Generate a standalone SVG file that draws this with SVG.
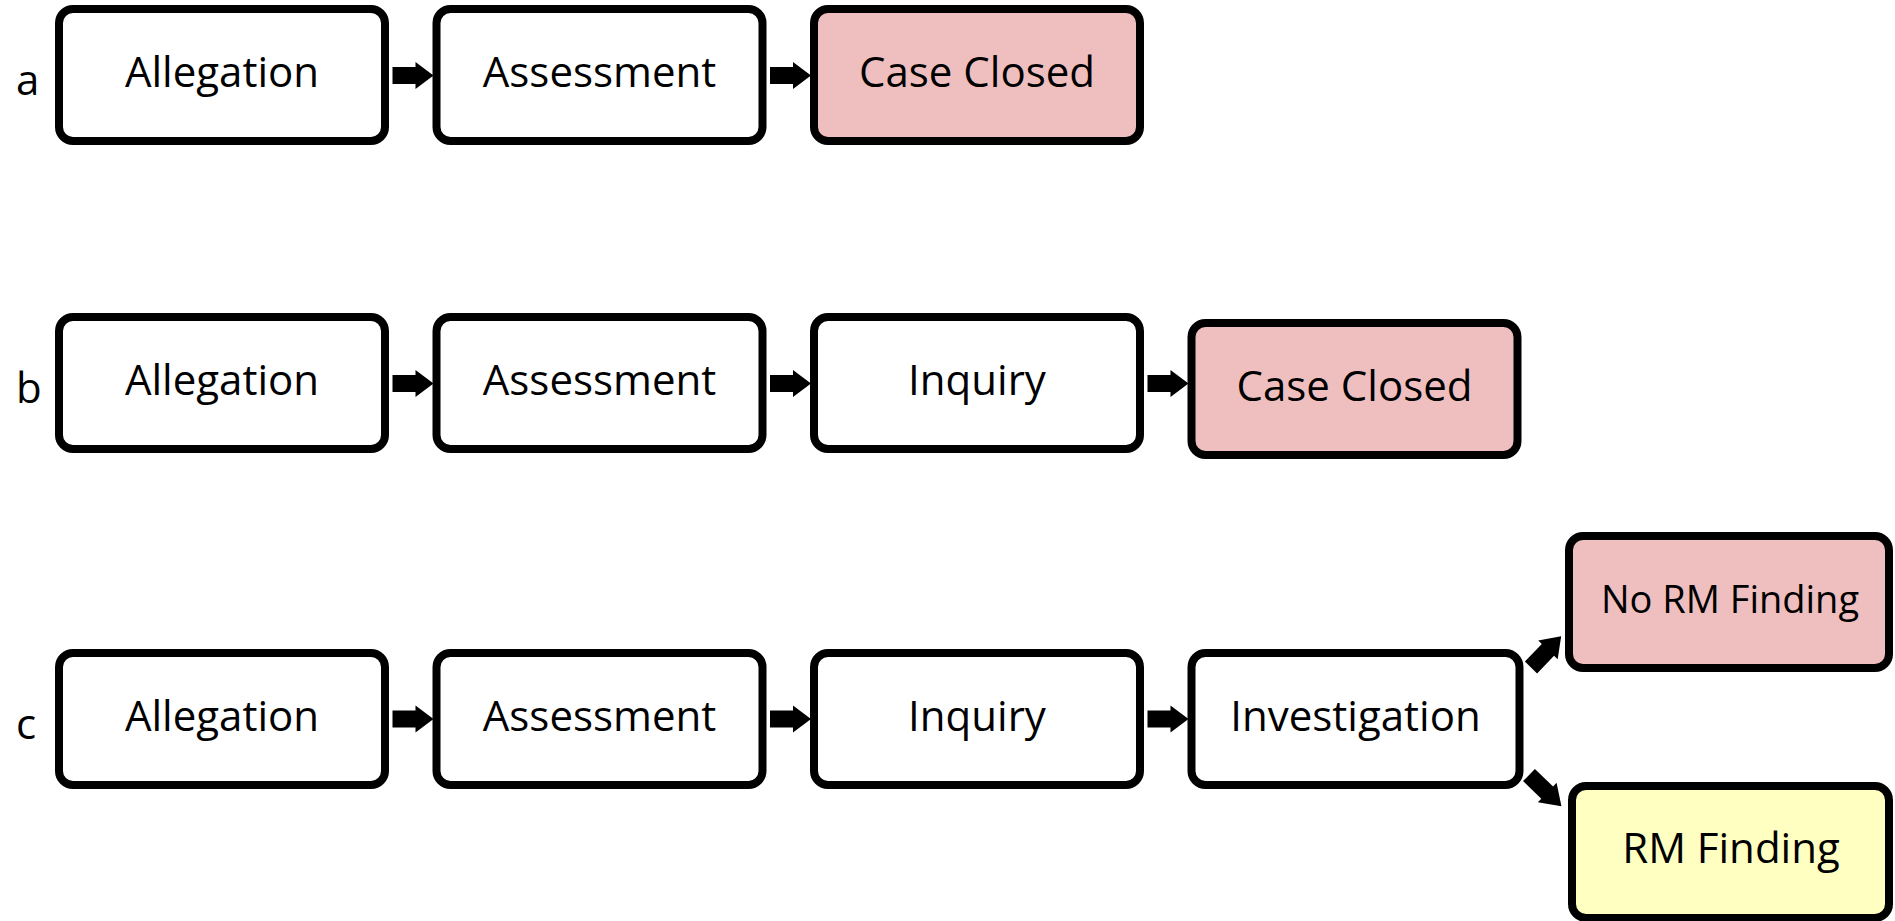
<svg xmlns="http://www.w3.org/2000/svg" xmlns:xlink="http://www.w3.org/1999/xlink" width="1895" height="921" viewBox="0 0 1895 921">
<defs>
<style>
.box{fill:#ffffff;stroke:#000000;stroke-width:8}
.pink{fill:#EFBFBF}
.yellow{fill:#FFFFC1}
.t{font-family:"Open Sans","Liberation Sans",sans-serif;font-size:42px;fill:#000000;text-anchor:middle}
.s{font-size:38px}
.lbl{font-family:"Open Sans","Liberation Sans",sans-serif;font-size:42px;fill:#000000}
</style>
<polygon id="arr" points="0,-8.5 23,-8.5 23,-13.5 41,0 23,13.5 23,8.5 0,8.5" fill="#000000"/>
</defs>
<rect width="1895" height="921" fill="#ffffff"/>
<g id="labels">
<text class="lbl" x="16" y="95">a</text>
<text class="lbl" x="16" y="403">b</text>
<text class="lbl" x="16" y="739">c</text>
</g>
<g id="a-allegation"><rect class="box" x="59" y="9" width="326" height="132" rx="14"/><text class="t" x="222" y="87">Allegation</text></g>
<g id="a-assessment"><rect class="box" x="436.5" y="9" width="326" height="132" rx="14"/><text class="t" x="599.5" y="87">Assessment</text></g>
<g id="a-closed"><rect class="box pink" x="814" y="9" width="326" height="132" rx="14"/><text class="t" x="977" y="87">Case Closed</text></g>
<g id="b-allegation"><rect class="box" x="59" y="317" width="326" height="132" rx="14"/><text class="t" x="222" y="395">Allegation</text></g>
<g id="b-assessment"><rect class="box" x="436.5" y="317" width="326" height="132" rx="14"/><text class="t" x="599.5" y="395">Assessment</text></g>
<g id="b-inquiry"><rect class="box" x="814" y="317" width="326" height="132" rx="14"/><text class="t" x="977" y="395">Inquiry</text></g>
<g id="b-closed"><rect class="box pink" x="1191.5" y="323" width="326" height="132" rx="14"/><text class="t" x="1354.5" y="401">Case Closed</text></g>
<g id="c-allegation"><rect class="box" x="59" y="653" width="326" height="132" rx="14"/><text class="t" x="222" y="731">Allegation</text></g>
<g id="c-assessment"><rect class="box" x="436.5" y="653" width="326" height="132" rx="14"/><text class="t" x="599.5" y="731">Assessment</text></g>
<g id="c-inquiry"><rect class="box" x="814" y="653" width="326" height="132" rx="14"/><text class="t" x="977" y="731">Inquiry</text></g>
<g id="c-investigation"><rect class="box" x="1191.5" y="653" width="328" height="132" rx="14"/><text class="t" x="1355.5" y="731">Investigation</text></g>
<g id="c-norm"><rect class="box pink" x="1569" y="536" width="320" height="132" rx="14"/><text class="t s" x="1730" y="613">No RM Finding</text></g>
<g id="c-rm"><rect class="box yellow" x="1572" y="786" width="317" height="132" rx="14"/><text class="t" x="1731" y="863">RM Finding</text></g>
<g id="connectors">
<use xlink:href="#arr" transform="translate(392.5,75.5)"/>
<use xlink:href="#arr" transform="translate(770,75.5)"/>
<use xlink:href="#arr" transform="translate(392.5,383.5)"/>
<use xlink:href="#arr" transform="translate(770,383.5)"/>
<use xlink:href="#arr" transform="translate(1147.5,383.5)"/>
<use xlink:href="#arr" transform="translate(392.5,719)"/>
<use xlink:href="#arr" transform="translate(770,719)"/>
<use xlink:href="#arr" transform="translate(1147.5,719)"/>
<use xlink:href="#arr" transform="translate(1531,667.5) rotate(-46) scale(1.06,1)"/>
<use xlink:href="#arr" transform="translate(1529,775) rotate(44) scale(1.1,1)"/>
</g>
</svg>
